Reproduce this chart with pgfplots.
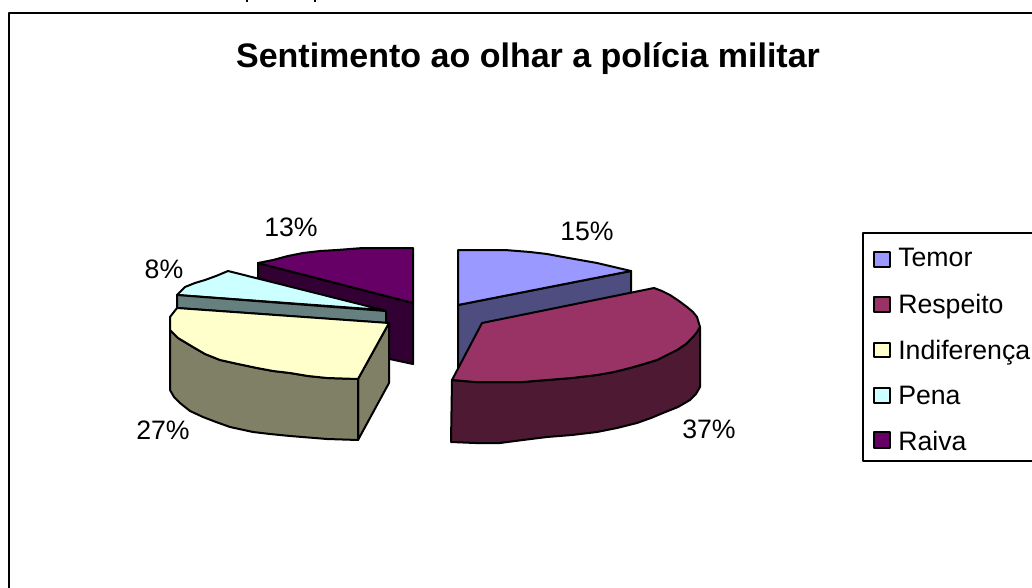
\documentclass[border=0pt]{standalone}
\usepackage{pgfplots}
\pgfplotsset{compat=1.18}
\usepackage{fontspec}
\setmainfont{Liberation Sans}
\definecolor{temor}{HTML}{9999FF}
\definecolor{temord}{HTML}{4D4D80}
\definecolor{resp}{HTML}{993366}
\definecolor{respd}{HTML}{4D1933}
\definecolor{indif}{HTML}{FFFFCC}
\definecolor{indifd}{HTML}{808066}
\definecolor{pena}{HTML}{CCFFFF}
\definecolor{penad}{HTML}{668080}
\definecolor{raiva}{HTML}{660066}
\definecolor{raivad}{HTML}{330033}
\tikzset{lbl/.style={font=\fontsize{20}{24}\selectfont, inner sep=0pt}}
\begin{document}
\begin{tikzpicture}
\begin{axis}[
  scale only axis, width=774pt, height=441pt,
  xmin=0, xmax=1032, ymin=0, ymax=588, y dir=reverse,
  hide axis, clip=true,
  every axis plot/.append style={draw=black, line width=1.5pt, line join=round},
]
\path (axis cs:0,0) rectangle (axis cs:1032,588);
% chart frame
\addplot[overlay, draw=black, line width=2pt] coordinates {(9,600) (9,13) (1045,13)};
% Clipped text descenders at the top edge
\addplot[overlay, draw=black, line width=1.5pt] coordinates {(247,-5) (247,2)};
\addplot[overlay, draw=black, line width=1.5pt] coordinates {(315,-5) (315,2)};
% Raiva
\addplot[fill=raivad] coordinates {(258,263) (413,303) (413,364) (385,358) (385,320) (258,278)} --cycle;
\addplot[fill=raiva] coordinates {(258,263) (273,260) (288,256) (303,253) (320,251) (337,250) (363,248) (413,248) (413,303)} --cycle;
% Pena
\addplot[fill=pena] coordinates {(177,295) (185,287) (195,283) (205,280) (216,276) (228,271) (383,310)} --cycle;
\addplot[fill=penad] coordinates {(177,295) (386,311) (386,323) (177,308)} --cycle;
% Indiferenca
\addplot[fill=indifd] coordinates {(358,379) (389,323) (389,383) (358,440)} --cycle;
\addplot[fill=indifd] coordinates {(170,330) (170,390) (174,397) (180,403) (190,411) (203,417) (216,422) (230,427) (253,432) (270,434) (290,436) (327,439) (358,440) (358,379) (327,378) (308,376) (290,373) (273,371) (257,368) (238,364) (220,360) (205,354) (193,347) (178,338)} --cycle;
\addplot[fill=indif] coordinates {(177,308) (389,323) (358,379) (327,378) (308,376) (290,373) (273,371) (257,368) (238,364) (220,360) (205,354) (193,347) (178,338) (170,330) (170,317)} --cycle;
% Temor
\addplot[fill=temord] coordinates {(458,305) (631,271) (631,295) (458,370)} --cycle;
\addplot[fill=temor] coordinates {(458,250) (505,250) (530,252) (547,254) (563,257) (580,260) (597,263) (614,267) (631,271) (458,305)} --cycle;
% Respeito
\addplot[fill=respd] coordinates {(452,380) (451,442) (475,443) (500,443) (523,440) (547,437) (572,435) (597,432) (617,428) (637,423) (651,418) (663,413) (678,407) (690,400) (696,394) (700,387) (700,327) (697,332) (693,337) (686,344) (677,350) (667,355) (657,360) (644,364) (630,368) (614,372) (597,375) (572,378) (547,380) (523,382) (500,382) (475,382)} --cycle;
\addplot[fill=resp] coordinates {(482,323) (654,288) (662,291) (670,295) (679,301) (687,307) (693,312) (697,317) (700,327) (697,332) (693,337) (686,344) (677,350) (667,355) (657,360) (644,364) (630,368) (614,372) (597,375) (572,378) (547,380) (523,382) (500,382) (475,382) (452,380)} --cycle;
% Legend
\addplot[overlay, draw=black, line width=1.5pt] coordinates {(1045,233) (863,233) (863,461) (1045,461)};
\addplot[fill=temor, line width=1.2pt] coordinates {(874,252) (890,252) (890,267) (874,267)} --cycle;
\addplot[fill=resp, line width=1.2pt] coordinates {(874,297) (890,297) (890,312) (874,312)} --cycle;
\addplot[fill=indif, line width=1.2pt] coordinates {(874,343) (890,343) (890,357) (874,357)} --cycle;
\addplot[fill=pena, line width=1.2pt] coordinates {(874,388) (890,388) (890,403) (874,403)} --cycle;
\addplot[fill=raiva, line width=1.2pt] coordinates {(874,432) (890,432) (890,448) (874,448)} --cycle;
% Text
\node[inner sep=0pt, font=\fontsize{25.5}{30}\selectfont\bfseries] at (axis cs:528,59) {Sentimento ao olhar a polícia militar};
\node[lbl] at (axis cs:291,227) {13\%};
\node[lbl] at (axis cs:164,269) {8\%};
\node[lbl] at (axis cs:163,430) {27\%};
\node[lbl] at (axis cs:587,231) {15\%};
\node[lbl] at (axis cs:709,429) {37\%};
\node[lbl, anchor=base west] at (axis cs:898,267) {Temor};
\node[lbl, anchor=base west] at (axis cs:898,313) {Respeito};
\node[lbl, anchor=base west] at (axis cs:898,359) {Indiferença};
\node[lbl, anchor=base west] at (axis cs:898,404) {Pena};
\node[lbl, anchor=base west] at (axis cs:898,450) {Raiva};
\end{axis}
\end{tikzpicture}
\end{document}
